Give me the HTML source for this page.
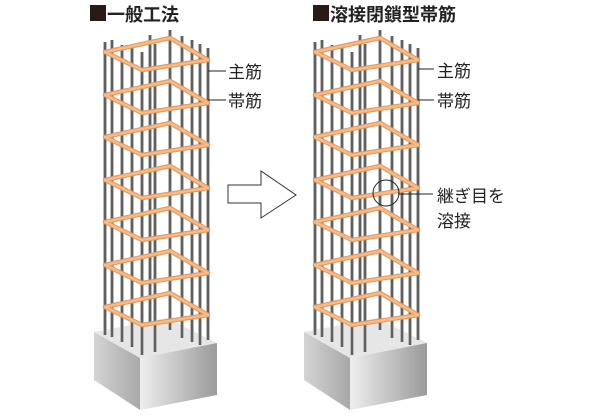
<!DOCTYPE html>
<html><head><meta charset="utf-8"><style>
html,body{margin:0;padding:0;background:#fff;width:600px;height:416px;overflow:hidden}
svg{display:block}
text{font-family:"Liberation Sans","Noto Sans CJK JP",sans-serif;fill:#222}
</style></head><body>
<svg width="600" height="416" viewBox="0 0 600 416">
<defs>
<linearGradient id="gl" x1="0" x2="1"><stop offset="0" stop-color="#d4d4d4"/><stop offset="1" stop-color="#a8a8a8"/></linearGradient>
<linearGradient id="gr" x1="0" x2="1"><stop offset="0" stop-color="#eeeeee"/><stop offset="1" stop-color="#9a9a9a"/></linearGradient>
<g id="base">
<polygon points="94,332 167,318 217,343 140,358" fill="#e6e6e6"/>
<polygon points="94,332 140,358 140,410 94,380" fill="url(#gl)"/>
<polygon points="140,358 217,343 217,395 140,410" fill="url(#gr)"/>
</g>
<g id="bars" stroke-linecap="butt">
<g stroke="#bbb" stroke-width="4">
<line x1="105" y1="42" x2="105" y2="335"/><line x1="112" y1="40" x2="112" y2="337"/>
<line x1="122" y1="45" x2="122" y2="342"/><line x1="132" y1="48" x2="132" y2="347"/>
<line x1="142" y1="52" x2="142" y2="355"/><line x1="155" y1="44" x2="155" y2="352"/>
<line x1="170" y1="30" x2="170" y2="330"/><line x1="182" y1="36" x2="182" y2="338"/>
<line x1="192" y1="40" x2="192" y2="342"/><line x1="200" y1="44" x2="200" y2="345"/>
<line x1="208" y1="48" x2="208" y2="340"/><line x1="150" y1="35" x2="150" y2="325"/>
</g>
<g stroke="#4a4a4a" stroke-width="1.6">
<line x1="105" y1="42" x2="105" y2="335"/><line x1="112" y1="40" x2="112" y2="337"/>
<line x1="122" y1="45" x2="122" y2="342"/><line x1="132" y1="48" x2="132" y2="347"/>
<line x1="142" y1="52" x2="142" y2="355"/><line x1="155" y1="44" x2="155" y2="352"/>
<line x1="170" y1="30" x2="170" y2="330"/><line x1="182" y1="36" x2="182" y2="338"/>
<line x1="192" y1="40" x2="192" y2="342"/><line x1="200" y1="44" x2="200" y2="345"/>
<line x1="208" y1="48" x2="208" y2="340"/><line x1="150" y1="35" x2="150" y2="325"/>
</g>
</g>
<g id="hoop" fill="none" stroke-linejoin="round">
<path d="M105,52 L142,70 L208,60 L170,38 Z" stroke="#e39a60" stroke-width="4.5"/>
<path d="M105,52 L142,70 L208,60 L170,38 Z" stroke="#f8bb88" stroke-width="2.4"/>
</g>
<g id="col">
<use href="#base"/>
<use href="#bars"/>
<use href="#hoop"/>
<use href="#hoop" transform="translate(0,43)"/>
<use href="#hoop" transform="translate(0,85)"/>
<use href="#hoop" transform="translate(0,128)"/>
<use href="#hoop" transform="translate(0,170)"/>
<use href="#hoop" transform="translate(0,213)"/>
<use href="#hoop" transform="translate(0,255)"/>
</g>
</defs>
<use href="#col"/>
<use href="#col" transform="translate(210,0)"/>
<rect x="90" y="5" width="16" height="16" fill="#2a1a14"/>
<text x="107" y="21" font-size="18" font-weight="bold">一般工法</text>
<rect x="313" y="5" width="16" height="16" fill="#2a1a14"/>
<text x="330" y="21" font-size="18" font-weight="bold">溶接閉鎖型帯筋</text>
<g stroke="#222" stroke-width="1">
<line x1="208" y1="71" x2="226" y2="71"/><line x1="208" y1="100" x2="226" y2="100"/>
<line x1="418" y1="69" x2="434" y2="69"/><line x1="418" y1="100" x2="434" y2="100"/>
<line x1="398" y1="194" x2="433" y2="194"/>
<circle cx="386" cy="193" r="13" fill="none"/>
</g>
<g font-size="17">
<text x="228" y="78">主筋</text><text x="228" y="107">帯筋</text>
<text x="437" y="77">主筋</text><text x="437" y="107">帯筋</text>
<text x="437" y="202">継ぎ目を</text><text x="437" y="227">溶接</text>
</g>
<polygon points="228,185 261,185 261,171 296,195 261,218 261,203 228,203" fill="#fff" stroke="#333" stroke-width="1"/>
</svg>
</body></html>
